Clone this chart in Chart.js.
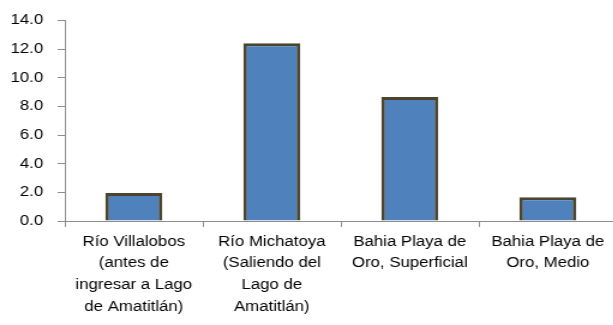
<!DOCTYPE html>
<html>
<head>
<meta charset="utf-8">
<script src="https://cdn.jsdelivr.net/npm/chart.js@4"></script>
<style>
  html, body { margin: 0; padding: 0; background: #fff; overflow: hidden; }
  #wrap { width: 613px; height: 325px; overflow: hidden; }
  /* the chart is laid out narrow and widened horizontally */
  #chart { display: block; transform: scaleX(1.2); transform-origin: 0 0; }
</style>
</head>
<body>
<div id="wrap"><canvas id="chart" width="514" height="325"></canvas></div>
<script>
// Sampling sites (multi-line category labels)
const sites = [
  ["Río Villalobos", "(antes de", "ingresar a Lago", "de Amatitlán)"],
  ["Río Michatoya", "(Saliendo del", "Lago de", "Amatitlán)"],
  ["Bahia Playa de", "Oro, Superficial"],
  ["Bahia Playa de", "Oro, Medio"]
];
// Measured value per site
const values = [1.95, 12.4, 8.65, 1.65];
// Y axis range
const yMin = 0;
const yMax = 14;
const yStep = 2;

Chart.defaults.font.family = "'Liberation Sans', Arial, sans-serif";
Chart.defaults.font.size = 14;
Chart.defaults.color = "#000";

new Chart(document.getElementById("chart"), {
  type: "bar",
  data: {
    labels: sites,
    datasets: [{
      data: values,
      backgroundColor: "#4f81bd",
      borderColor: "#4a4530",
      borderWidth: 3,
      barPercentage: 0.413,
      categoryPercentage: 1.0
    }]
  },
  options: {
    responsive: false,
    animation: false,
    layout: { padding: { top: 17, left: 0, right: 0, bottom: 7 } },
    plugins: { legend: { display: false }, tooltip: { enabled: false } },
    scales: {
      x: {
        offset: true,
        afterFit: (s) => { s.height = 97; s.paddingLeft = 0; s.paddingRight = 0; },
        grid: {
          offset: true,
          drawOnChartArea: false,
          drawTicks: true,
          tickLength: 6,
          color: "#8c8c8c"
        },
        border: { display: true, color: "#8c8c8c", width: 1 },
        ticks: {
          autoSkip: false,
          maxRotation: 0,
          minRotation: 0,
          padding: 4,
          font: { size: 14, lineHeight: 1.55 }
        }
      },
      y: {
        min: yMin,
        max: yMax,
        afterFit: (s) => { s.width = 54; },
        grid: {
          drawOnChartArea: false,
          drawTicks: true,
          tickLength: 6,
          color: "#8c8c8c"
        },
        border: { display: true, color: "#8c8c8c", width: 1 },
        ticks: {
          stepSize: yStep,
          padding: 12,
          callback: (v) => Number(v).toFixed(1)
        }
      }
    }
  }
});
</script>
</body>
</html>
